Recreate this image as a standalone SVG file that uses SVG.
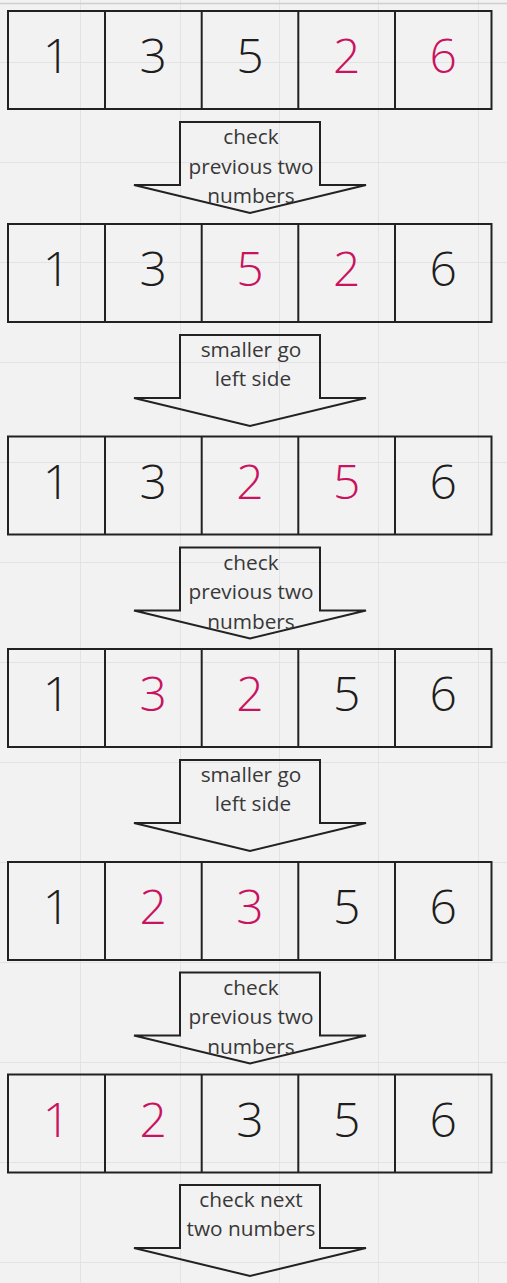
<svg xmlns="http://www.w3.org/2000/svg" width="507" height="1283" viewBox="0 0 507 1283">
<style>
.grid{stroke:#e3e3e3;stroke-width:1}
.box{fill:none;stroke:#222;stroke-width:2}
.arr{fill:none;stroke:#222;stroke-width:2;stroke-linejoin:miter}
.d{font-family:"Open Sans",sans-serif;font-size:48px;font-weight:350;text-anchor:middle;fill:#1e1e1e}
.p{fill:#c9135f}
.t{font-family:"Open Sans",sans-serif;font-size:20.8px;font-weight:400;text-anchor:middle;fill:#383838}
</style>
<defs>
<g id="cells">
<rect class="box" x="8" y="0" width="483.5" height="98"/>
<line class="box" x1="105" y1="0" x2="105" y2="98"/>
<line class="box" x1="201.7" y1="0" x2="201.7" y2="98"/>
<line class="box" x1="298.3" y1="0" x2="298.3" y2="98"/>
<line class="box" x1="395" y1="0" x2="395" y2="98"/>
</g>
<path id="arrow" class="arr" d="M180,0 L320,0 L320,63 L366,63 L250,91 L134,63 L180,63 Z"/>
</defs>
<rect width="507" height="1283" fill="#f2f2f2"/>
<g id="grid">
<line class="grid" x1="80.5" y1="0" x2="80.5" y2="1283"/>
<line class="grid" x1="180.5" y1="0" x2="180.5" y2="1283"/>
<line class="grid" x1="279.5" y1="0" x2="279.5" y2="1283"/>
<line class="grid" x1="378.5" y1="0" x2="378.5" y2="1283"/>
<line class="grid" x1="478.5" y1="0" x2="478.5" y2="1283"/>
<line class="grid" x1="0" y1="62.5" x2="507" y2="62.5"/>
<line class="grid" x1="0" y1="162.5" x2="507" y2="162.5"/>
<line class="grid" x1="0" y1="262.5" x2="507" y2="262.5"/>
<line class="grid" x1="0" y1="362.5" x2="507" y2="362.5"/>
<line class="grid" x1="0" y1="462.5" x2="507" y2="462.5"/>
<line class="grid" x1="0" y1="562.5" x2="507" y2="562.5"/>
<line class="grid" x1="0" y1="662.5" x2="507" y2="662.5"/>
<line class="grid" x1="0" y1="762.5" x2="507" y2="762.5"/>
<line class="grid" x1="0" y1="862.5" x2="507" y2="862.5"/>
<line class="grid" x1="0" y1="962.5" x2="507" y2="962.5"/>
<line class="grid" x1="0" y1="1062.5" x2="507" y2="1062.5"/>
<line class="grid" x1="0" y1="1162.5" x2="507" y2="1162.5"/>
<line class="grid" x1="0" y1="1262.5" x2="507" y2="1262.5"/>
<line x1="0" y1="3.5" x2="507" y2="3.5" stroke="#cfcfcf" stroke-width="1.5"/>
</g>

<g id="row1" transform="translate(0,11)">
<use href="#cells"/>
<text class="d" x="56.5" y="62">1</text>
<text class="d" x="153.3" y="62">3</text>
<text class="d" x="250" y="62">5</text>
<text class="d p" x="346.7" y="62">2</text>
<text class="d p" x="443.3" y="62">6</text>
</g>
<g id="arrow1" transform="translate(0,122)">
<use href="#arrow"/>
<text class="t" x="251" y="22">check</text>
<text class="t" x="251" y="51.5">previous two</text>
<text class="t" x="251" y="81">numbers</text>
</g>

<g id="row2" transform="translate(0,224)">
<use href="#cells"/>
<text class="d" x="56.5" y="62">1</text>
<text class="d" x="153.3" y="62">3</text>
<text class="d p" x="250" y="62">5</text>
<text class="d p" x="346.7" y="62">2</text>
<text class="d" x="443.3" y="62">6</text>
</g>
<g id="arrow2" transform="translate(0,335)">
<use href="#arrow"/>
<text class="t" x="251" y="22">smaller go</text>
<text class="t" x="253" y="51">left side</text>
</g>

<g id="row3" transform="translate(0,436.5)">
<use href="#cells"/>
<text class="d" x="56.5" y="62">1</text>
<text class="d" x="153.3" y="62">3</text>
<text class="d p" x="250" y="62">2</text>
<text class="d p" x="346.7" y="62">5</text>
<text class="d" x="443.3" y="62">6</text>
</g>
<g id="arrow3" transform="translate(0,547.5)">
<use href="#arrow"/>
<text class="t" x="251" y="22">check</text>
<text class="t" x="251" y="51.5">previous two</text>
<text class="t" x="251" y="81">numbers</text>
</g>

<g id="row4" transform="translate(0,649)">
<use href="#cells"/>
<text class="d" x="56.5" y="62">1</text>
<text class="d p" x="153.3" y="62">3</text>
<text class="d p" x="250" y="62">2</text>
<text class="d" x="346.7" y="62">5</text>
<text class="d" x="443.3" y="62">6</text>
</g>
<g id="arrow4" transform="translate(0,760)">
<use href="#arrow"/>
<text class="t" x="251" y="22">smaller go</text>
<text class="t" x="253" y="51">left side</text>
</g>

<g id="row5" transform="translate(0,862)">
<use href="#cells"/>
<text class="d" x="56.5" y="62">1</text>
<text class="d p" x="153.3" y="62">2</text>
<text class="d p" x="250" y="62">3</text>
<text class="d" x="346.7" y="62">5</text>
<text class="d" x="443.3" y="62">6</text>
</g>
<g id="arrow5" transform="translate(0,972.5)">
<use href="#arrow"/>
<text class="t" x="251" y="22">check</text>
<text class="t" x="251" y="51.5">previous two</text>
<text class="t" x="251" y="81">numbers</text>
</g>

<g id="row6" transform="translate(0,1074.5)">
<use href="#cells"/>
<text class="d p" x="56.5" y="62">1</text>
<text class="d p" x="153.3" y="62">2</text>
<text class="d" x="250" y="62">3</text>
<text class="d" x="346.7" y="62">5</text>
<text class="d" x="443.3" y="62">6</text>
</g>
<g id="arrow6" transform="translate(0,1185)">
<use href="#arrow"/>
<text class="t" x="251" y="22">check next</text>
<text class="t" x="251" y="51">two numbers</text>
</g>
</svg>
